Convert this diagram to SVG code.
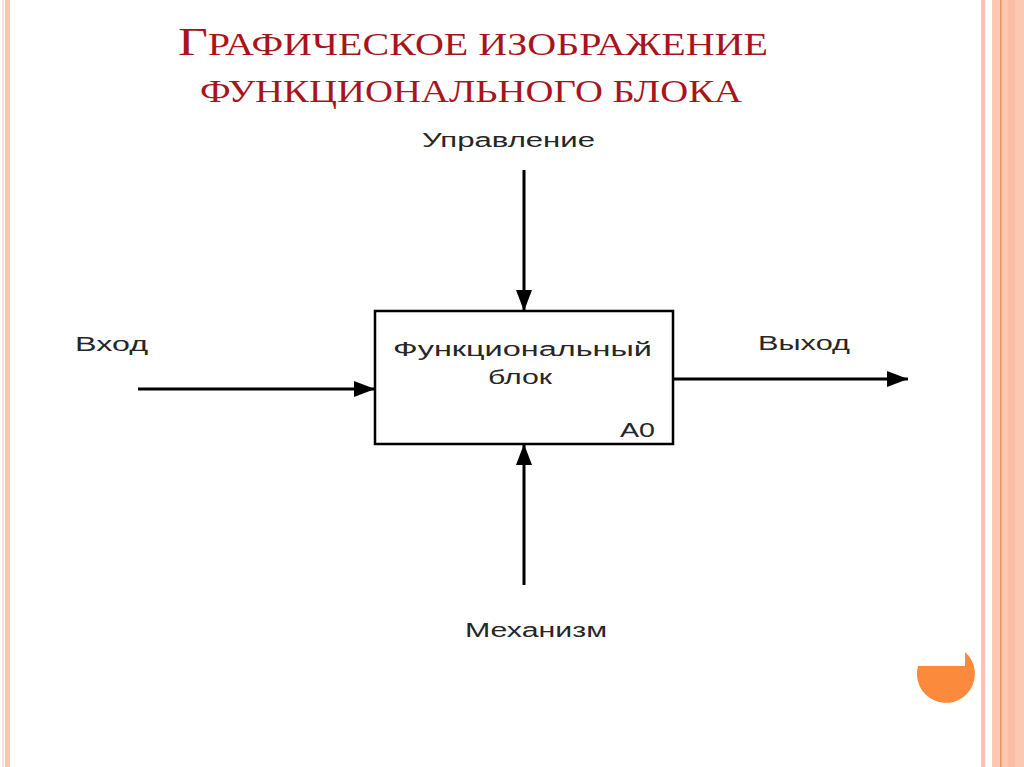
<svg xmlns="http://www.w3.org/2000/svg" width="1024" height="767" viewBox="0 0 1024 767">
<style>
.title{font-family:"Liberation Serif","DejaVu Serif",serif;fill:#a8141c}
.lbl{font-family:"Liberation Sans",Arial,sans-serif;fill:#262626;font-size:20px}
.conn{stroke:#000;stroke-width:3;fill:none}
</style>
<defs>
<marker id="arr" markerUnits="userSpaceOnUse" markerWidth="22" markerHeight="18" refX="21" refY="9" orient="auto">
<path d="M0,1 L21,9 L0,17 Z" fill="#000"/>
</marker>
</defs>
<rect width="1024" height="767" fill="#fff"/>
<g id="borders">
<rect x="2" y="0" width="2" height="767" fill="#fbe3da"/>
<rect x="5" y="0" width="5" height="767" fill="#fcc6b3"/>
<rect x="981" y="0" width="4" height="767" fill="#fcc4ae"/>
<rect x="992" y="0" width="32" height="767" fill="#fdc7b2"/>
<rect x="1000" y="0" width="1.5" height="767" fill="#f0915e"/>
<rect x="1008" y="0" width="7" height="767" fill="#fbbda5"/>
</g>
<g id="title">
<text class="title" x="178" y="55" textLength="590" lengthAdjust="spacingAndGlyphs"><tspan font-size="40">Г</tspan><tspan font-size="31">РАФИЧЕСКОЕ ИЗОБРАЖЕНИЕ</tspan></text>
<text class="title" x="200" y="102" font-size="31" textLength="542" lengthAdjust="spacingAndGlyphs">ФУНКЦИОНАЛЬНОГО БЛОКА</text>
</g>
<g id="connectors">
<line class="conn" x1="524" y1="170" x2="524" y2="311" marker-end="url(#arr)"/>
<line class="conn" x1="524" y1="585" x2="524" y2="444" marker-end="url(#arr)"/>
<line class="conn" x1="138" y1="389" x2="375" y2="389" marker-end="url(#arr)"/>
<line class="conn" x1="673" y1="379" x2="908" y2="379" marker-end="url(#arr)"/>
</g>
<g id="block">
<rect x="375" y="311" width="298" height="133" fill="#fff" stroke="#000" stroke-width="2.5"/>
<text class="lbl" x="393" y="356" font-size="21" textLength="259" lengthAdjust="spacingAndGlyphs">Функциональный</text>
<text class="lbl" x="488" y="384" font-size="21" textLength="64" lengthAdjust="spacingAndGlyphs">блок</text>
<text class="lbl" x="620" y="437" font-size="21" textLength="35" lengthAdjust="spacingAndGlyphs">A0</text>
</g>
<g id="control"><text class="lbl" x="422" y="147" textLength="173" lengthAdjust="spacingAndGlyphs">Управление</text></g>
<g id="input"><text class="lbl" x="75" y="351" textLength="73" lengthAdjust="spacingAndGlyphs">Вход</text></g>
<g id="output"><text class="lbl" x="758" y="350" textLength="92" lengthAdjust="spacingAndGlyphs">Выход</text></g>
<g id="mechanism"><text class="lbl" x="465" y="637" textLength="142" lengthAdjust="spacingAndGlyphs">Механизм</text></g>
<g id="ornament">
<path d="M965,666 L918,666 A29,29 0 1 0 965,652 Z" fill="#fb8a3c"/>
</g>
</svg>
